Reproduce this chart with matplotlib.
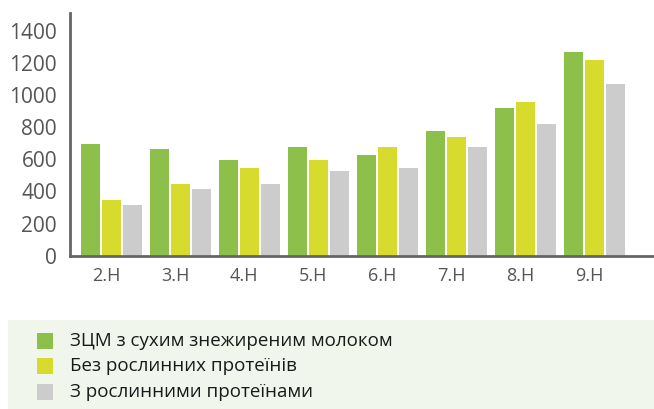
import numpy as np
import matplotlib.pyplot as plt
from matplotlib.patches import Rectangle

plt.rcParams['font.family'] = ['Open Sans', 'DejaVu Sans']

# Data
categories = ["2.H", "3.H", "4.H", "5.H", "6.H", "7.H", "8.H", "9.H"]
series_names = ["ЗЦМ з сухим знежиреним молоком",
                "Без рослинних протеїнів",
                "З рослинними протеїнами"]
skim_milk = [695, 665, 595, 675, 625, 775, 920, 1270]
no_plant = [345, 445, 545, 595, 675, 740, 960, 1220]
with_plant = [315, 415, 445, 525, 545, 675, 820, 1070]
yticks = [0, 200, 400, 600, 800, 1000, 1200, 1400]

colors = ["#8dc04a", "#d7db2e", "#cccccc"]
axis_grey = "#666666"
text_grey = "#555555"

fig = plt.figure(figsize=(6.54, 4.09), dpi=100)
ax = fig.add_axes([0.1063, 0.3753, 0.8937, 0.5927])

x = np.arange(len(categories))
width = 0.275
step = 0.304
for k, vals in enumerate([skim_milk, no_plant, with_plant]):
    ax.bar(x + (k - 1) * step, vals, width, color=colors[k], label=series_names[k])

ax.set_xlim(-0.609, 7.86)
ax.set_ylim(0, 1515)
ax.set_yticks(yticks)
ax.set_yticklabels([str(v) for v in yticks])
ax.set_xticks(x - 0.08)
ax.set_xticklabels(categories)

for s in ["top", "right"]:
    ax.spines[s].set_visible(False)
for s in ["left", "bottom"]:
    ax.spines[s].set_color(axis_grey)
    ax.spines[s].set_linewidth(2)

ax.tick_params(axis="y", length=0, pad=9, labelsize=15, labelcolor=text_grey)
ax.tick_params(axis="x", length=0, pad=8, labelsize=13, labelcolor=text_grey)

# Legend panel with light green background
fig.patches.append(Rectangle((8 / 654, 0), 1 - 8 / 654, (409 - 320) / 409,
                             transform=fig.transFigure, facecolor="#f1f6ec",
                             edgecolor="none", zorder=0))
row_y = [341, 366, 392]
for k, name in enumerate(series_names):
    yc = 1 - row_y[k] / 409
    fig.patches.append(Rectangle((37 / 654, yc - 8 / 409), 16 / 654, 16 / 409,
                                 transform=fig.transFigure, facecolor=colors[k],
                                 edgecolor="none", zorder=1))
    fig.text(70 / 654, yc, name, fontsize=13.5, color="#1a1a1a", va="center", ha="left")

fig.savefig("out.png", dpi=100)
